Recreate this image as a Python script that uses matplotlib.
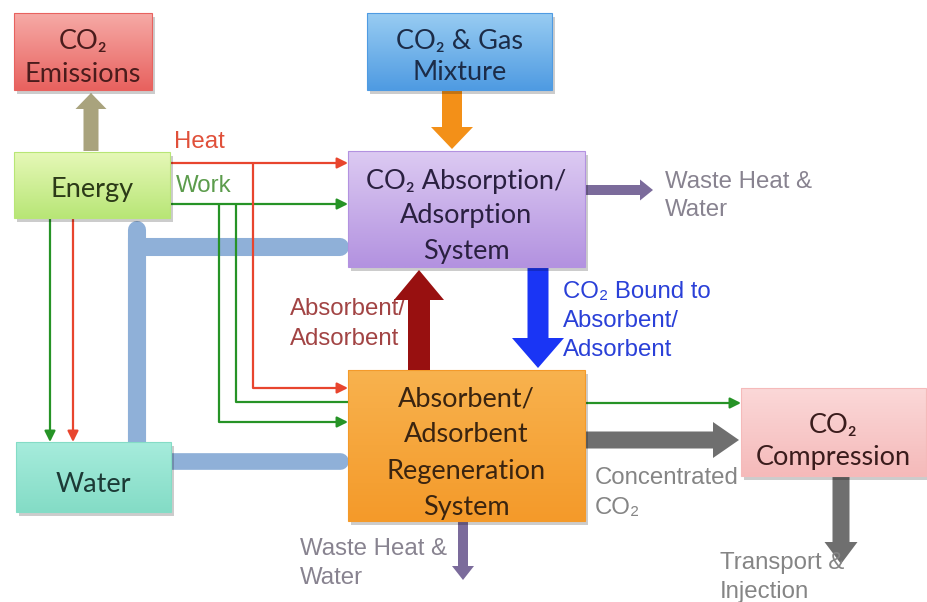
import numpy as np
import matplotlib
matplotlib.use("Agg")
import matplotlib.pyplot as plt
from matplotlib.patches import Rectangle, FancyArrow
from matplotlib.colors import to_rgb

# ---- diagram content ----
box_labels = {
    "emis": "CO₂\nEmissions",
    "gas": "CO₂ & Gas\nMixture",
    "energy": "Energy",
    "absorb": "CO₂ Absorption/\nAdsorption\nSystem",
    "water": "Water",
    "regen": "Absorbent/\nAdsorbent\nRegeneration\nSystem",
    "comp": "CO₂\nCompression",
}
flow_labels = {
    "heat": "Heat",
    "work": "Work",
    "waste1": "Waste Heat &\nWater",
    "sorbent": "Absorbent/\nAdsorbent",
    "bound": "CO₂ Bound to\nAbsorbent/\nAdsorbent",
    "conc": "Concentrated\nCO₂",
    "transport": "Transport &\nInjection",
    "waste2": "Waste Heat &\nWater",
}

BOXF = ["Lato", "DejaVu Sans"]
LABF = ["Liberation Sans", "DejaVu Sans"]

fig = plt.figure(figsize=(9.28, 6.02), dpi=100)
ax = fig.add_axes([0, 0, 1, 1])
ax.set_xlim(0, 928)
ax.set_ylim(602, 0)
ax.axis("off")


def box(key, x0, y0, x1, y1, top, bot, tc, pitch, fs=19.5, cy=None):
    # shadow
    ax.add_patch(Rectangle((x0 + 3, y0 + 4), x1 - x0, y1 - y0, color="#000000",
                           alpha=0.2, lw=0, zorder=3))
    t = np.array(to_rgb(top)); b = np.array(to_rgb(bot))
    g = np.linspace(0, 1, 64)[:, None, None]
    img = t * (1 - g) + b * g
    ax.imshow(img, extent=(x0, x1, y1, y0), aspect="auto", zorder=4,
              interpolation="bilinear")
    ax.add_patch(Rectangle((x0, y0), x1 - x0, y1 - y0, fill=False,
                           ec=bot, lw=0.8, zorder=5))
    lines = box_labels[key].split("\n")
    cx = (x0 + x1) / 2
    if cy is None:
        cy = (y0 + y1) / 2 + 4
    n = len(lines)
    for i, ln in enumerate(lines):
        yy = cy + (i - (n - 1) / 2) * pitch
        ax.text(cx, yy, ln, ha="center", va="center", fontsize=fs,
                family=BOXF, color=tc, zorder=6)


def label(key, x, y0, pitch, color, fs=17.3, z=7):
    for i, ln in enumerate(flow_labels[key].split("\n")):
        ax.text(x, y0 + i * pitch, ln, ha="left", va="center", fontsize=fs,
                family=LABF, color=color, zorder=z)


def fat(x, y, dx, dy, w, hw, hl, color, z=2):
    ax.add_patch(FancyArrow(x, y, dx, dy, width=w, head_width=hw,
                            head_length=hl, length_includes_head=True,
                            color=color, lw=0, zorder=z))


def thin(xs, ys, color, head=True):
    ax.plot(xs[:-1] if head else xs, ys[:-1] if head else ys, color=color,
            lw=1.6, zorder=2, solid_capstyle="butt")
    if head:
        ax.annotate("", xy=(xs[-1], ys[-1]), xytext=(xs[-2], ys[-2]),
                    arrowprops=dict(arrowstyle="-|>", color=color, lw=1.6,
                                    mutation_scale=16, shrinkA=0, shrinkB=0),
                    zorder=2)


RED = "#e8452e"
GREEN = "#269326"
BLUEBAND = "#8fb0d8"

# ---- light blue water bands ----
ax.plot([137, 137, 340], [445, 247, 247], color=BLUEBAND, lw=13,
        solid_capstyle="round", solid_joinstyle="miter", zorder=1)
ax.plot([137, 137], [445, 230], color=BLUEBAND, lw=13,
        solid_capstyle="round", zorder=1)
ax.plot([168, 340], [461, 461], color=BLUEBAND, lw=12,
        solid_capstyle="round", zorder=1)

# ---- thin heat / work lines ----
thin([170, 348], [163, 163], RED)
thin([170, 348], [204, 204], GREEN)
thin([253, 253, 348], [163, 388, 388], RED)
thin([236, 236, 348], [204, 402, 402], GREEN, head=False)
thin([219, 219, 348], [204, 422, 422], GREEN)
thin([50, 50], [218, 442], GREEN)
thin([73, 73], [218, 442], RED)
thin([585, 741], [403, 403], GREEN)

# ---- fat arrows ----
fat(91, 151, 0, -58, 15, 31, 16, "#a9a37d")
fat(452, 91, 0, 58, 20, 42, 22, "#f39018")
fat(538, 268, 0, 100, 21, 52, 30, "#1a35f5")
fat(419, 370, 0, -100, 22, 50, 30, "#981010", z=8)
fat(585, 190, 68, 0, 10, 21, 13, "#7b6b9b")
fat(463, 521, 0, 59, 10, 22, 14, "#7b6b9b")
fat(585, 440, 154, 0, 17, 36, 26, "#6f6f6f")
fat(841, 476, 0, 88, 17, 33, 22, "#6f6f6f")

# ---- boxes ----
box("emis", 14, 13, 152, 90, "#f6aaa6", "#e8625f", "#4a1c1c", 33, cy=57.5)
box("gas", 367, 13, 552, 90, "#98ccf2", "#4f9be2", "#1c2c48", 32, cy=57)
box("energy", 14, 152, 170, 218, "#e6f8b8", "#b8e676", "#2c3a18", 32, cy=189)
box("absorb", 348, 151, 585, 267, "#dccaf2", "#b392e0", "#2a2040", 35, cy=216)
box("water", 16, 442, 171, 512, "#a6ecdc", "#84dcc6", "#1c3a36", 32, cy=484)
box("regen", 348, 370, 585, 521, "#f8b24e", "#f49a2a", "#3a2410", 36, cy=453)
box("comp", 741, 388, 926, 476, "#fbd8d8", "#f5baba", "#3a1c1c", 32, cy=442)

# ---- flow labels ----
label("heat", 174, 142, 29, "#e0503a")
label("work", 176, 186, 29, "#5c9c4c")
label("waste1", 665, 182, 28, "#888390")
label("sorbent", 290, 309, 30, "#a24444")
label("bound", 563, 292, 29, "#2a40d8")
label("conc", 595, 478, 30, "#858585")
label("transport", 720, 563, 29, "#858585")
label("waste2", 300, 549, 29, "#888390")

fig.savefig("out.png", dpi=100, facecolor="white")
